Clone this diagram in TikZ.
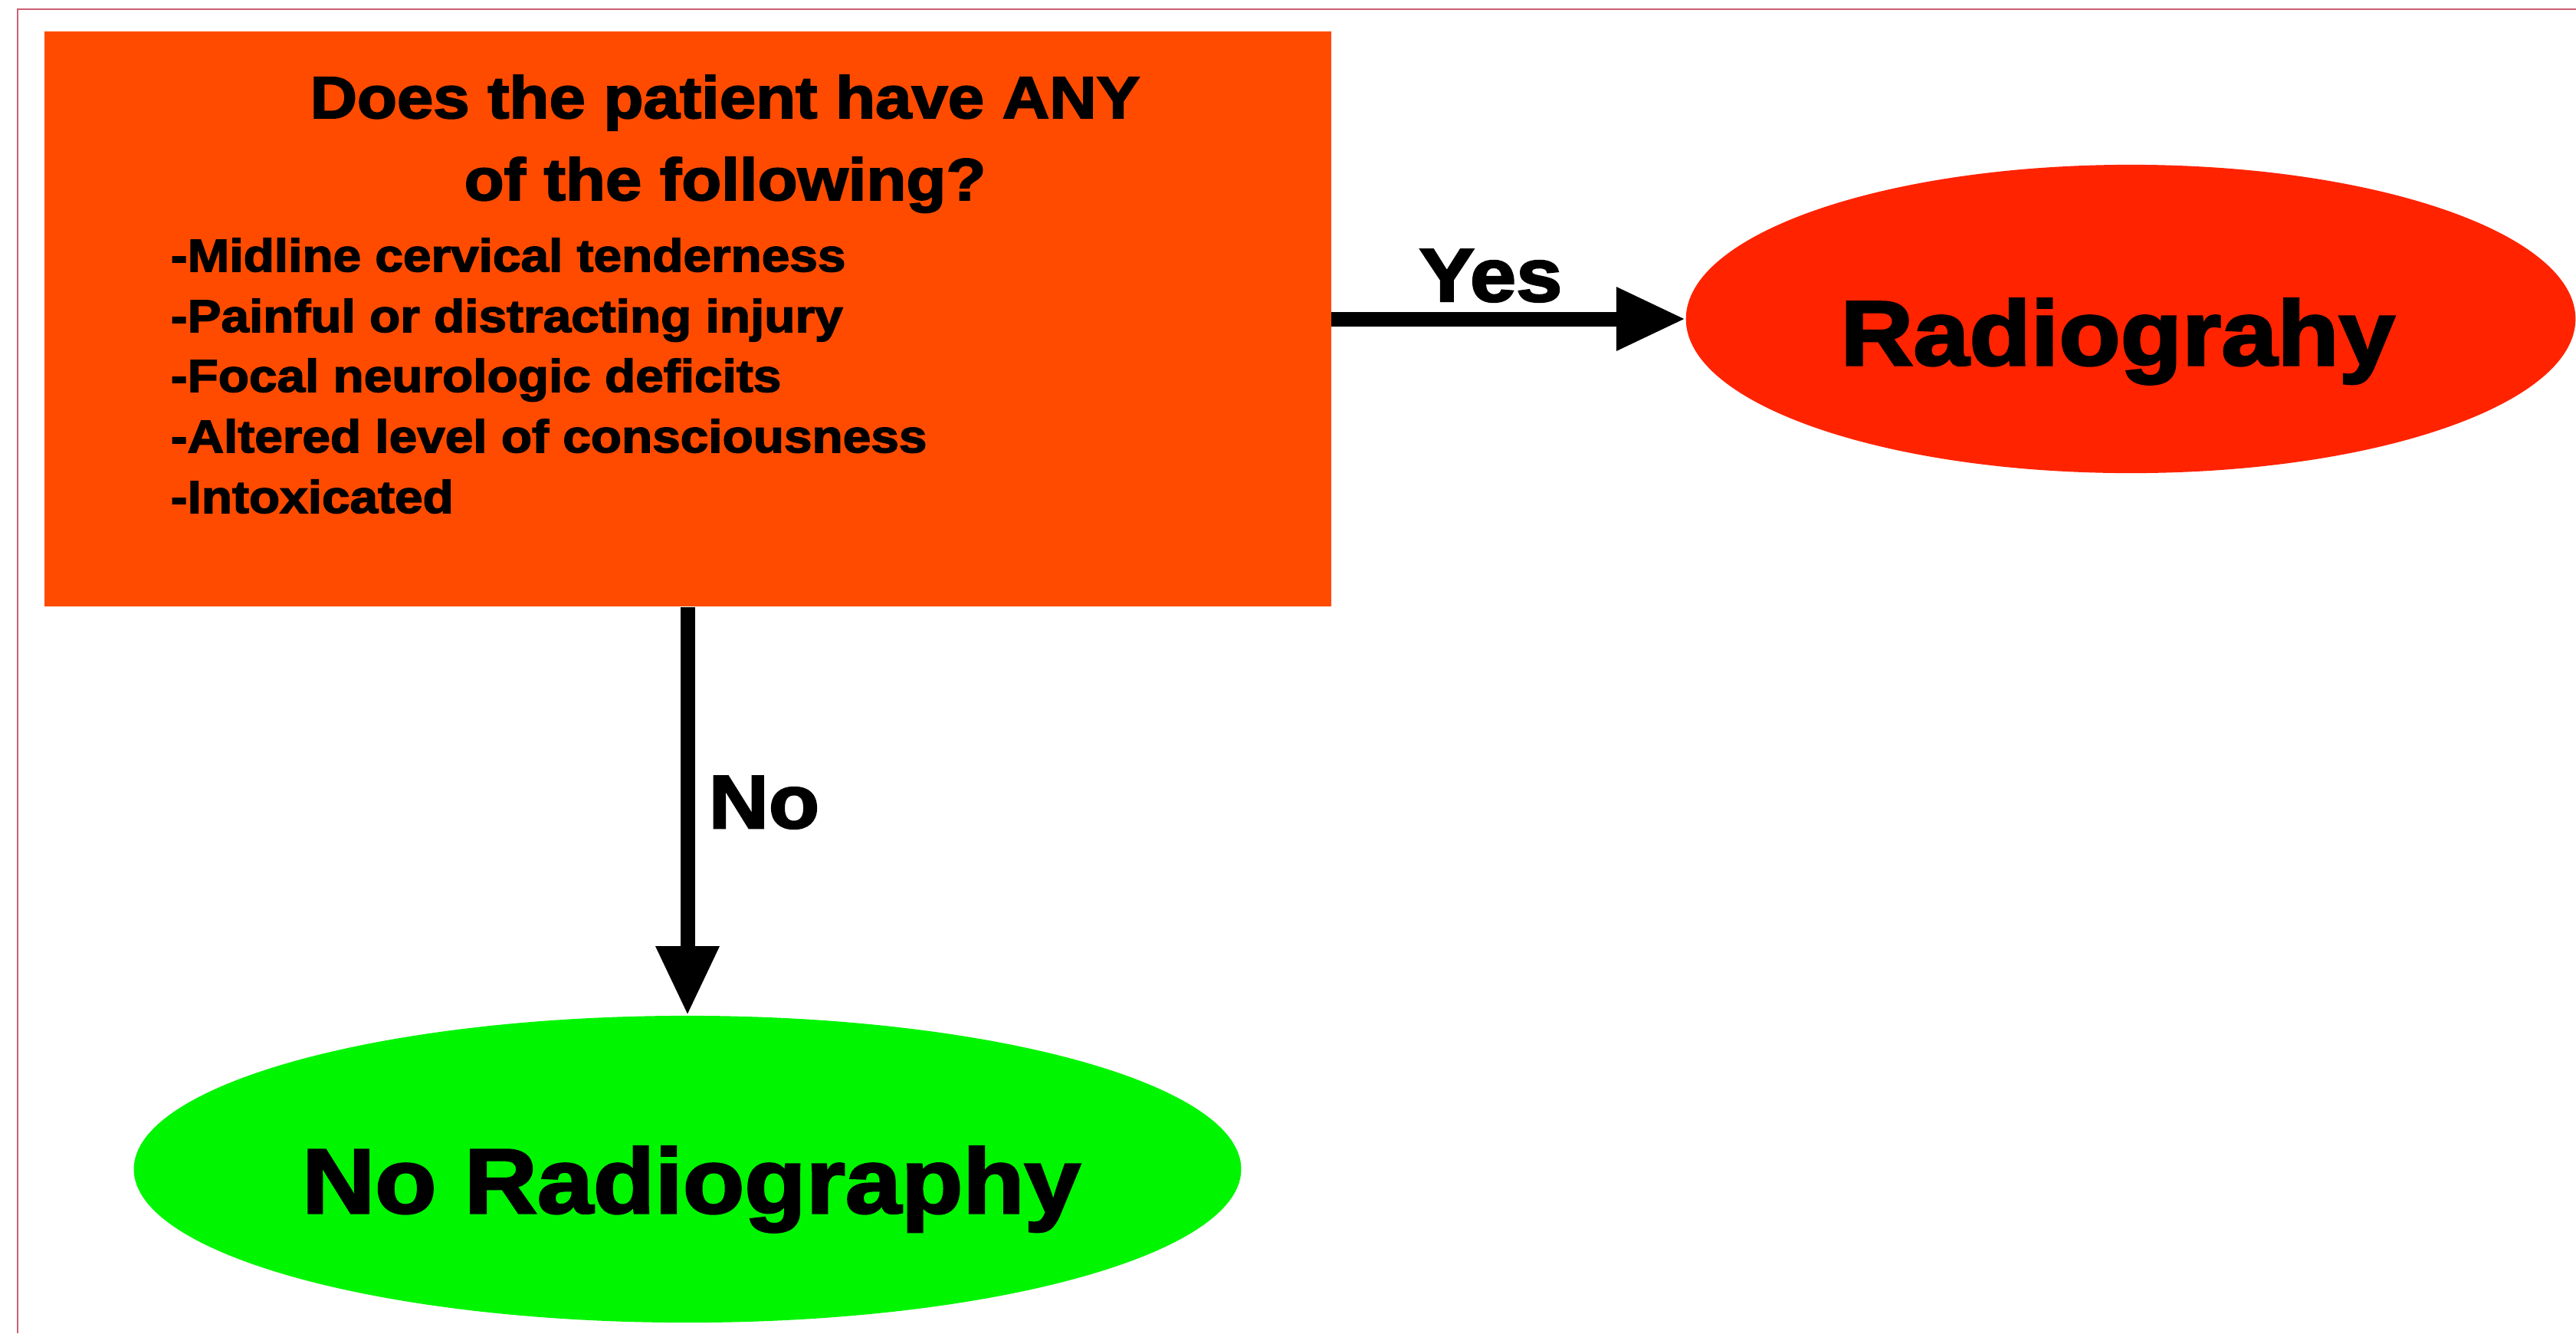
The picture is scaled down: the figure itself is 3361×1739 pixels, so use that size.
\documentclass[tikz,border=0pt]{standalone}
\usepackage{fontspec}
\usetikzlibrary{arrows.meta,shapes.geometric}
\newfontfamily\hvfont[FakeStretch=1.1,FakeBold=2.5]{Liberation Sans Bold}
\definecolor{boxorange}{RGB}{255,75,0}
\definecolor{yesred}{RGB}{255,35,0}
\definecolor{nogreen}{RGB}{0,245,0}
\definecolor{framecol}{RGB}{205,95,115}
\tikzset{
  qbox/.style={rectangle, fill=boxorange, draw=none, inner sep=0pt, minimum width=16.78cm, minimum height=7.50cm},
  endnode/.style={ellipse, draw=none, inner sep=0pt},
  conn/.style={line width=0.19cm, -{Triangle[length=0.9cm,width=0.78cm]}},
  bigtxt/.style={font=\hvfont\fontsize{34}{38}\selectfont, inner sep=0pt},
  lbltxt/.style={font=\hvfont\fontsize{28}{32}\selectfont, inner sep=0pt},
  titletxt/.style={font=\hvfont\fontsize{22}{26}\selectfont, inner sep=0pt},
  itemtxt/.style={font=\hvfont\fontsize{17}{20}\selectfont, inner sep=0pt, anchor=base west}
}
\begin{document}
\begin{tikzpicture}[x=0.01cm,y=-0.01cm]
\useasboundingbox (0,0) rectangle (3361,1739);
\fill[white] (0,0) rectangle (3361,1739);
\draw[framecol, line width=0.02cm] (23,1739) -- (23,12) -- (3361,12);

\node[qbox] (q) at (897,416) {};
\node[titletxt, anchor=base] (t1) at (946,154) {Does the patient have ANY};
\node[titletxt, anchor=base] (t2) at (946,261) {of the following?};
\node[itemtxt] (i1) at (222,354) {-Midline cervical tenderness};
\node[itemtxt] (i2) at (222,433) {-Painful or distracting injury};
\node[itemtxt] (i3) at (222,511) {-Focal neurologic deficits};
\node[itemtxt] (i4) at (222,590) {-Altered level of consciousness};
\node[itemtxt] (i5) at (222,669) {-Intoxicated};

\node[endnode, fill=yesred, minimum width=11.6cm, minimum height=4.02cm] (rad) at (2780,416) {};
\node[bigtxt, anchor=base] (radt) at (2763,476) {Radiograhy};

\node[endnode, fill=nogreen, minimum width=14.44cm, minimum height=4.0cm] (norad) at (897,1525) {};
\node[bigtxt, anchor=base] (noradt) at (902,1582) {No Radiography};

\draw[conn] (q.east) -- (rad.west);
\draw[conn] (q.south) -- (norad.north);
\node[lbltxt, anchor=base] (yes) at (1945,393) {Yes};
\node[lbltxt, anchor=base west] (no) at (924,1080) {No};
\end{tikzpicture}
\end{document}
